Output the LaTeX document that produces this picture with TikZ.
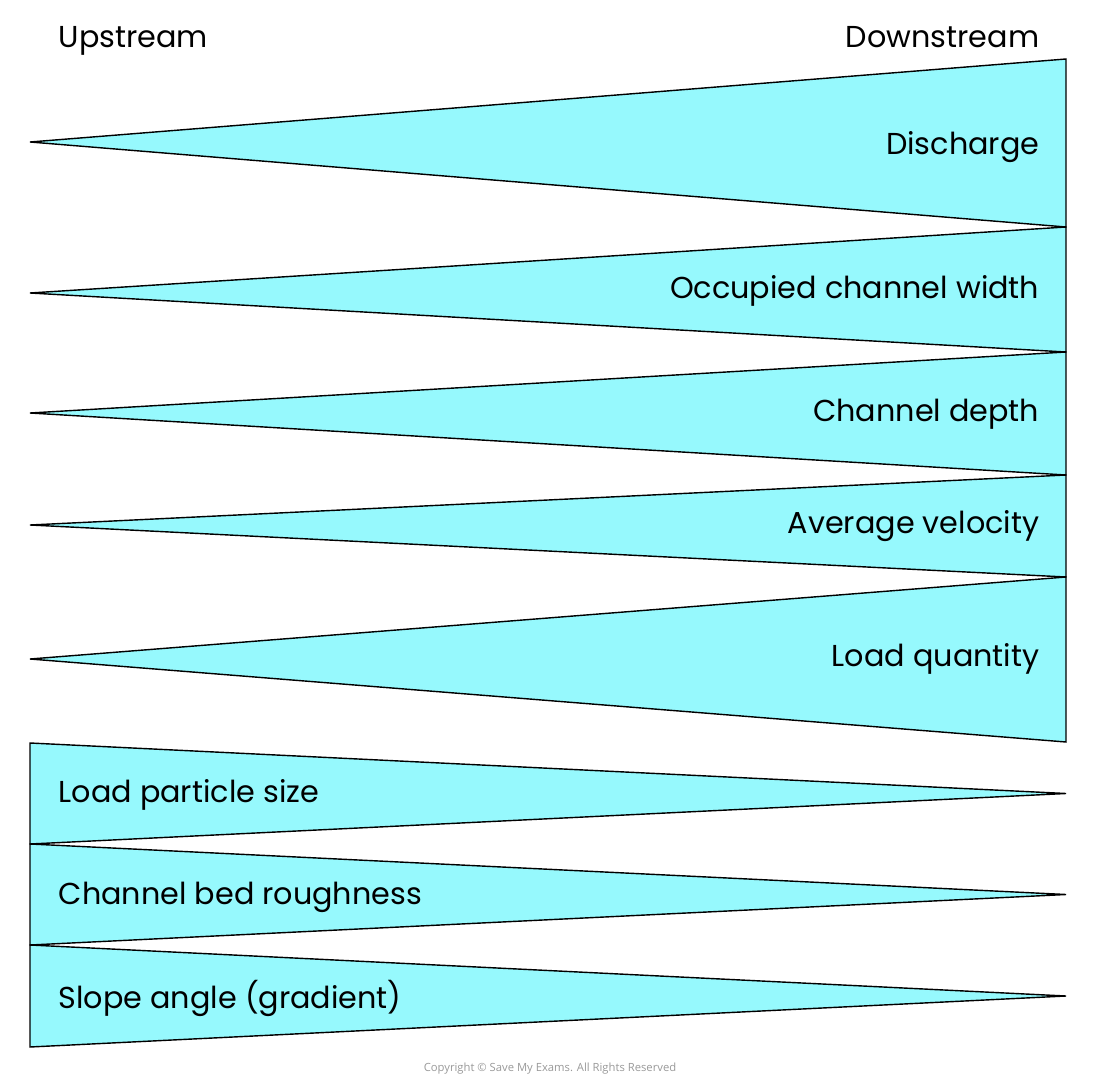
\documentclass[tikz,border=0pt]{standalone}
\usepackage{fontspec}
\setmainfont{Poppins}
\newfontfamily\copyfont{Open Sans}
\usetikzlibrary{calc}
\definecolor{flowcyan}{RGB}{150,249,253}

\begin{document}
\begin{tikzpicture}[
    x = 0.01cm, y = -0.01cm,
    wedge/.style = {draw, thin, fill=flowcyan, line join=miter},
    lbl/.style = {font=\fontsize{8.6}{10}\selectfont, inner sep=0pt}
  ]
  \useasboundingbox (0,0) rectangle (1100,1088);

  % widening downstream
  \foreach \ap/\ya/\yb in {142/59/227, 293/227/352, 413/352/475, 525/475/577, 659/577/742}
  \draw[wedge] (30,\ap) -- (1066,\ya) -- (1066,\yb) -- cycle;

  % narrowing downstream
  \foreach \ya/\yb in {743/844, 844/945, 945/1047}
  \draw[wedge] (30,\ya) -- (1066,{(\ya+\yb)/2}) -- (30,\yb) -- cycle;

  \node[lbl, anchor=base west] (UP) at (58,48) {Upstream};
  \node[lbl, anchor=base east] (DOWN) at (1040,48) {Downstream};

  \node[lbl, anchor=base east] (discharge) at (1040,155) {Discharge};
  \node[lbl, anchor=base east] (width) at (1040,298) {Occupied channel width};
  \node[lbl, anchor=base east] (depth) at (1040,421) {Channel depth};
  \node[lbl, anchor=base east] (velocity) at (1040,533) {Average velocity};
  \node[lbl, anchor=base east] (load) at (1040,666) {Load quantity};

  \node[lbl, anchor=base west] (size) at (58,802) {Load particle size};
  \node[lbl, anchor=base west] (rough) at (58,904) {Channel bed roughness};
  \node[lbl, anchor=base west] (slope) at (58,1008) {Slope angle (gradient)};

  \node[inner sep=0pt, text=black!40, font=\copyfont\fontsize{3.2}{4}\selectfont] (copy) at (550,1069) {Copyright © Save My Exams. All Rights Reserved};
\end{tikzpicture}
\end{document}
